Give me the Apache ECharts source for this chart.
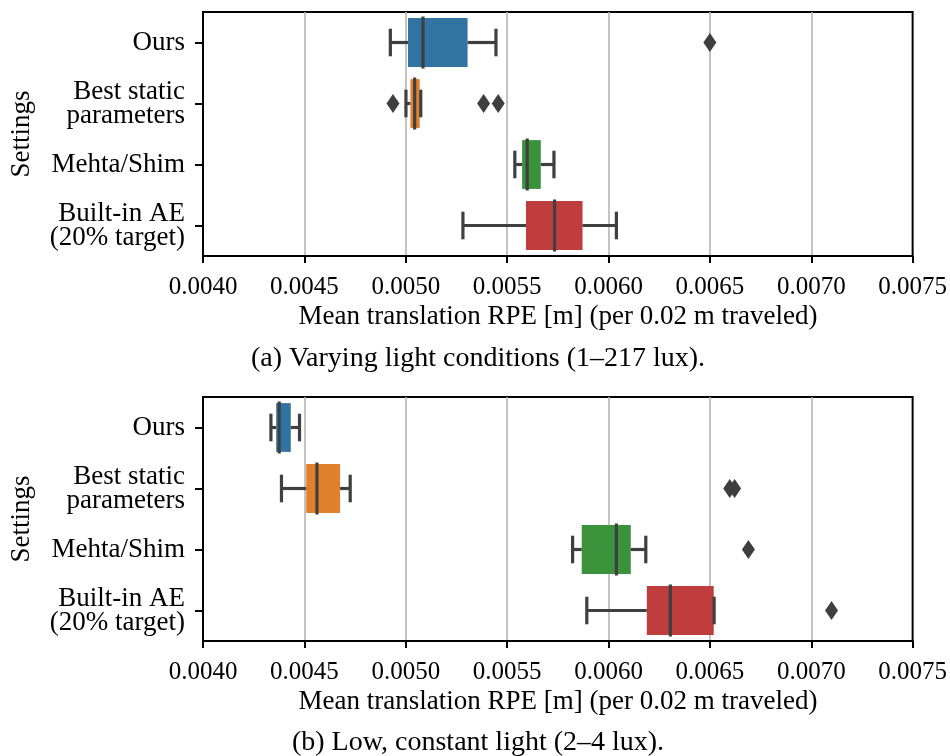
<!DOCTYPE html>
<html>
<head>
<meta charset="utf-8">
<script src="https://cdn.jsdelivr.net/npm/echarts@6/dist/echarts.min.js"></script>
<style>
html,body{margin:0;padding:0;background:#fff;}
#chart{width:950px;height:756px;}
</style>
</head>
<body>
<div id="chart"></div>
<script>
// ---- data ----
const categories = ['Ours', 'Best static\nparameters', 'Mehta/Shim', 'Built-in AE\n(20% target)'];
const boxColors = ['#3274a1', '#e1812c', '#3a923a', '#c03d3e'];
// [whisker low, Q1, median, Q3, whisker high]
const statsVarying = [
  [0.004924, 0.005011, 0.005085, 0.005305, 0.005445],
  [0.005001, 0.005023, 0.005044, 0.005069, 0.005074],
  [0.005538, 0.005574, 0.005599, 0.005666, 0.005731],
  [0.005282, 0.005593, 0.005734, 0.005872, 0.006039]
];
const outliersVarying = [
  [0.0065],
  [0.004937, 0.005384, 0.005456],
  [],
  []
];
const statsLow = [
  [0.004335, 0.004361, 0.004376, 0.004433, 0.004476],
  [0.004387, 0.004509, 0.004562, 0.004676, 0.004726],
  [0.005823, 0.005868, 0.006039, 0.006110, 0.006184],
  [0.005893, 0.006189, 0.006305, 0.006519, 0.006521]
];
const outliersLow = [
  [],
  [0.006598, 0.006622],
  [0.006690],
  [0.007100]
];
const xMin = 0.0040, xMax = 0.0075, xStep = 0.0005;
const xTitle = 'Mean translation RPE [m] (per 0.02 m traveled)';
const yTitle = 'Settings';
const captions = ['(a) Varying light conditions (1–217 lux).', '(b) Low, constant light (2–4 lux).'];

// ---- chart ----
const FONT = '"Liberation Serif", "DejaVu Serif", serif';
const LINE = '#3f3f3f';
const chart = echarts.init(document.getElementById('chart'), null, {renderer: 'canvas'});

function renderBox(params, api) {
  const ci = api.value(0);
  const lo = api.coord([api.value(1), ci]);
  const q1 = api.coord([api.value(2), ci]);
  const md = api.coord([api.value(3), ci]);
  const q3 = api.coord([api.value(4), ci]);
  const hi = api.coord([api.value(5), ci]);
  const band = api.size([0, 1])[1];
  const bh = band * 0.8;
  const cy = md[1];
  const capH = bh * 0.25;
  const ls = {stroke: LINE, lineWidth: 3.2, lineCap: 'square'};
  const lsW = {stroke: LINE, lineWidth: 3.2, lineCap: 'butt'};
  return {
    type: 'group',
    children: [
      {type: 'rect', shape: {x: q1[0], y: cy - bh / 2, width: q3[0] - q1[0], height: bh},
       style: {fill: boxColors[ci]}},
      {type: 'line', shape: {x1: lo[0], y1: cy, x2: q1[0], y2: cy}, style: lsW},
      {type: 'line', shape: {x1: q3[0], y1: cy, x2: hi[0], y2: cy}, style: lsW},
      {type: 'line', shape: {x1: lo[0], y1: cy - capH, x2: lo[0], y2: cy + capH}, style: ls},
      {type: 'line', shape: {x1: hi[0], y1: cy - capH, x2: hi[0], y2: cy + capH}, style: ls},
      {type: 'line', shape: {x1: md[0], y1: cy - bh / 2, x2: md[0], y2: cy + bh / 2}, style: ls}
    ]
  };
}

const grids = [
  {left: 203, right: 37, top: 12, height: 244},
  {left: 203, right: 37, top: 397, height: 244}
];

function xAxisFor(gi) {
  return {
    type: 'value', gridIndex: gi, min: xMin, max: xMax, interval: xStep,
    axisLine: {show: true, lineStyle: {color: '#000', width: 2}},
    axisTick: {show: true, length: 7, lineStyle: {color: '#000', width: 2}},
    axisLabel: {show: true, margin: 19, color: '#000', fontFamily: FONT, fontSize: 25,
      formatter: v => v.toFixed(4), showMinLabel: true, showMaxLabel: true},
    splitLine: {show: true, showMinLine: false, showMaxLine: false, lineStyle: {color: '#b4b4b4', width: 1.6}}
  };
}
function yAxisFor(gi) {
  return {
    type: 'category', gridIndex: gi, data: categories, inverse: true,
    axisLine: {show: true, lineStyle: {color: '#000', width: 2}},
    axisTick: {show: true, alignWithLabel: true, length: 8, lineStyle: {color: '#000', width: 2}},
    axisLabel: {margin: 18, color: '#000', fontFamily: FONT, fontSize: 27, lineHeight: 24, align: 'right'},
    splitLine: {show: false}
  };
}

function boxData(stats) { return stats.map((s, i) => [i].concat(s)); }
function outData(outs) {
  const r = [];
  outs.forEach((arr, i) => arr.forEach(v => r.push([v, i])));
  return r;
}

const series = [];
[[statsVarying, outliersVarying], [statsLow, outliersLow]].forEach((pair, gi) => {
  series.push({
    type: 'custom', xAxisIndex: gi, yAxisIndex: gi, renderItem: renderBox,
    encode: {x: [1, 2, 3, 4, 5], y: 0}, data: boxData(pair[0]), z: 3, silent: true
  });
  series.push({
    type: 'scatter', xAxisIndex: gi, yAxisIndex: gi, symbol: 'diamond', symbolSize: [13, 19],
    itemStyle: {color: LINE, opacity: 1}, data: outData(pair[1]), z: 4, silent: true
  });
});

const txt = (x, y, text, size, rot) => ({
  type: 'text', x: x, y: y, rotation: rot || 0,
  style: {text: text, fontFamily: FONT, fontSize: size, fill: '#000', align: 'center', verticalAlign: 'middle'}
});

chart.setOption({
  animation: false,
  backgroundColor: '#fff',
  grid: grids.map(g => Object.assign({show: true, borderColor: '#000', borderWidth: 2, backgroundColor: 'transparent', containLabel: false}, g)),
  xAxis: [xAxisFor(0), xAxisFor(1)],
  yAxis: [yAxisFor(0), yAxisFor(1)],
  series: series,
  graphic: [
    txt(558, 317, xTitle, 27),
    txt(558, 702, xTitle, 27),
    txt(22, 134, yTitle, 27, Math.PI / 2),
    txt(22, 519, yTitle, 27, Math.PI / 2),
    txt(478, 359, captions[0], 28),
    txt(478, 743, captions[1], 28)
  ]
});
</script>
</body>
</html>
